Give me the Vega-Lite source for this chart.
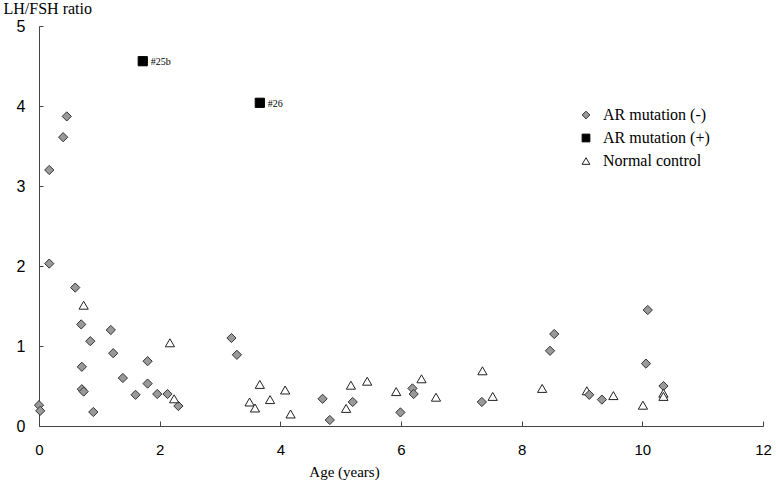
{
  "$schema": "https://vega.github.io/schema/vega-lite/v6.json",
  "width": 724,
  "height": 400,
  "autosize": {"type": "none"},
  "padding": {"left": 39, "top": 26, "right": 13, "bottom": 58},
  "background": "white",
  "config": {
    "view": {"stroke": null},
    "axis": {
      "grid": false,
      "domainColor": "#444444",
      "tickColor": "#444444",
      "labelFont": "Liberation Sans",
      "labelFontSize": 15,
      "labelColor": "#000000",
      "labelFlush": false,
      "titleFont": "Liberation Serif",
      "titleFontWeight": "normal",
      "titleColor": "#000000"
    },
    "legend": {
      "labelFont": "Liberation Serif",
      "labelFontSize": 16,
      "labelColor": "#000000"
    }
  },
  "data": {
    "values": [
      {"age": 0.0, "ratio": 0.26, "group": "AR mutation (-)"},
      {"age": 0.02, "ratio": 0.19, "group": "AR mutation (-)"},
      {"age": 0.17, "ratio": 3.2, "group": "AR mutation (-)"},
      {"age": 0.4, "ratio": 3.61, "group": "AR mutation (-)"},
      {"age": 0.46, "ratio": 3.87, "group": "AR mutation (-)"},
      {"age": 0.17, "ratio": 2.03, "group": "AR mutation (-)"},
      {"age": 0.6, "ratio": 1.73, "group": "AR mutation (-)"},
      {"age": 0.7, "ratio": 1.27, "group": "AR mutation (-)"},
      {"age": 0.85, "ratio": 1.06, "group": "AR mutation (-)"},
      {"age": 1.19, "ratio": 1.2, "group": "AR mutation (-)"},
      {"age": 1.23, "ratio": 0.91, "group": "AR mutation (-)"},
      {"age": 0.71, "ratio": 0.74, "group": "AR mutation (-)"},
      {"age": 0.71, "ratio": 0.46, "group": "AR mutation (-)"},
      {"age": 0.74, "ratio": 0.43, "group": "AR mutation (-)"},
      {"age": 0.9, "ratio": 0.175, "group": "AR mutation (-)"},
      {"age": 1.39, "ratio": 0.6, "group": "AR mutation (-)"},
      {"age": 1.8, "ratio": 0.81, "group": "AR mutation (-)"},
      {"age": 1.8, "ratio": 0.53, "group": "AR mutation (-)"},
      {"age": 1.6, "ratio": 0.39, "group": "AR mutation (-)"},
      {"age": 1.96, "ratio": 0.4, "group": "AR mutation (-)"},
      {"age": 2.13, "ratio": 0.4, "group": "AR mutation (-)"},
      {"age": 2.31, "ratio": 0.25, "group": "AR mutation (-)"},
      {"age": 3.19, "ratio": 1.1, "group": "AR mutation (-)"},
      {"age": 3.28, "ratio": 0.89, "group": "AR mutation (-)"},
      {"age": 4.7, "ratio": 0.34, "group": "AR mutation (-)"},
      {"age": 4.82, "ratio": 0.075, "group": "AR mutation (-)"},
      {"age": 5.2, "ratio": 0.3, "group": "AR mutation (-)"},
      {"age": 5.99, "ratio": 0.17, "group": "AR mutation (-)"},
      {"age": 6.19, "ratio": 0.47, "group": "AR mutation (-)"},
      {"age": 6.21, "ratio": 0.4, "group": "AR mutation (-)"},
      {"age": 7.34, "ratio": 0.3, "group": "AR mutation (-)"},
      {"age": 8.54, "ratio": 1.15, "group": "AR mutation (-)"},
      {"age": 8.47, "ratio": 0.94, "group": "AR mutation (-)"},
      {"age": 9.33, "ratio": 0.33, "group": "AR mutation (-)"},
      {"age": 10.09, "ratio": 1.45, "group": "AR mutation (-)"},
      {"age": 10.06, "ratio": 0.78, "group": "AR mutation (-)"},
      {"age": 0.74, "ratio": 1.51, "group": "Normal control"},
      {"age": 2.17, "ratio": 1.04, "group": "Normal control"},
      {"age": 2.24, "ratio": 0.34, "group": "Normal control"},
      {"age": 3.66, "ratio": 0.52, "group": "Normal control"},
      {"age": 3.49, "ratio": 0.3, "group": "Normal control"},
      {"age": 3.58, "ratio": 0.225, "group": "Normal control"},
      {"age": 3.83, "ratio": 0.33, "group": "Normal control"},
      {"age": 4.08, "ratio": 0.45, "group": "Normal control"},
      {"age": 4.17, "ratio": 0.15, "group": "Normal control"},
      {"age": 5.09, "ratio": 0.22, "group": "Normal control"},
      {"age": 5.17, "ratio": 0.51, "group": "Normal control"},
      {"age": 5.44, "ratio": 0.56, "group": "Normal control"},
      {"age": 5.92, "ratio": 0.43, "group": "Normal control"},
      {"age": 6.34, "ratio": 0.59, "group": "Normal control"},
      {"age": 6.58, "ratio": 0.36, "group": "Normal control"},
      {"age": 7.35, "ratio": 0.69, "group": "Normal control"},
      {"age": 7.52, "ratio": 0.37, "group": "Normal control"},
      {"age": 8.34, "ratio": 0.47, "group": "Normal control"},
      {"age": 9.08, "ratio": 0.44, "group": "Normal control"},
      {"age": 9.12, "ratio": 0.39, "group": "AR mutation (-)"},
      {"age": 9.52, "ratio": 0.38, "group": "Normal control"},
      {"age": 10.01, "ratio": 0.26, "group": "Normal control"},
      {"age": 10.35, "ratio": 0.5, "group": "AR mutation (-)"},
      {"age": 10.35, "ratio": 0.41, "group": "Normal control"},
      {"age": 10.35, "ratio": 0.37, "group": "Normal control"},
      {"age": 1.72, "ratio": 4.56, "group": "AR mutation (+)", "label": "#25b"},
      {"age": 3.66, "ratio": 4.04, "group": "AR mutation (+)", "label": "#26"}
    ]
  },
  "layer": [
    {
      "mark": {"type": "point", "filled": true, "size": 85, "strokeWidth": 1, "opacity": 1},
      "encoding": {
        "x": {
          "field": "age", "type": "quantitative",
          "scale": {"domain": [0, 12], "nice": false, "zero": false},
          "axis": {
            "values": [0, 2, 4, 6, 8, 10, 12],
            "format": "d",
            "title": "Age (years)",
            "titleX": 305, "titleY": 50, "titleAlign": "center", "titleBaseline": "alphabetic",
            "titleFontSize": 15,
            "tickSize": -5, "labelPadding": 21
          }
        },
        "y": {
          "field": "ratio", "type": "quantitative",
          "scale": {"domain": [0, 5], "nice": false},
          "axis": {
            "values": [0, 1, 2, 3, 4, 5],
            "format": "d",
            "title": "LH/FSH ratio",
            "titleAngle": 0, "titleAlign": "left", "titleBaseline": "alphabetic",
            "titleX": -36, "titleY": -13, "titleFontSize": 16,
            "tickSize": -4, "labelPadding": 18, "labelFontSize": 16
          }
        },
        "shape": {
          "field": "group", "type": "nominal",
          "scale": {"domain": ["AR mutation (-)", "AR mutation (+)", "Normal control"], "range": ["diamond", "square", "triangle-up"]},
          "legend": {
            "title": null, "orient": "none", "legendX": 539, "legendY": 81,
            "symbolSize": 60, "symbolStrokeWidth": 1, "rowPadding": 7, "labelOffset": 9, "padding": 0,
            "labelFont": "Liberation Serif", "labelFontSize": 16
          }
        },
        "fill": {
          "field": "group", "type": "nominal",
          "scale": {"domain": ["AR mutation (-)", "AR mutation (+)", "Normal control"], "range": ["#999999", "#000000", "#ffffff"]},
          "legend": {
            "title": null, "orient": "none", "legendX": 539, "legendY": 81,
            "symbolSize": 60, "symbolStrokeWidth": 1, "rowPadding": 7, "labelOffset": 9, "padding": 0,
            "labelFont": "Liberation Serif", "labelFontSize": 16
          }
        },
        "stroke": {
          "field": "group", "type": "nominal",
          "scale": {"domain": ["AR mutation (-)", "AR mutation (+)", "Normal control"], "range": ["#333333", "#000000", "#222222"]},
          "legend": {
            "title": null, "orient": "none", "legendX": 539, "legendY": 81,
            "symbolSize": 60, "symbolStrokeWidth": 1, "rowPadding": 7, "labelOffset": 9, "padding": 0,
            "labelFont": "Liberation Serif", "labelFontSize": 16
          }
        }
      }
    },
    {
      "transform": [{"filter": "isValid(datum.label)"}],
      "mark": {"type": "text", "align": "left", "baseline": "middle", "dx": 8, "dy": 1, "font": "Liberation Serif", "fontSize": 10, "color": "#000000"},
      "encoding": {
        "x": {"field": "age", "type": "quantitative"},
        "y": {"field": "ratio", "type": "quantitative"},
        "text": {"field": "label"}
      }
    }
  ]
}
